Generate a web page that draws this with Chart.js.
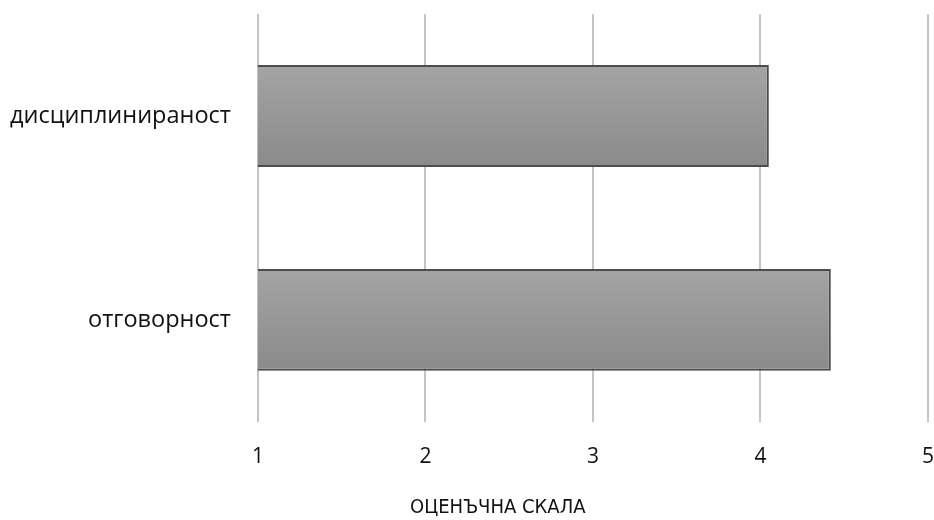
<!DOCTYPE html>
<html>
<head>
<meta charset="utf-8">
<script src="https://cdn.jsdelivr.net/npm/chart.js@4/dist/chart.umd.min.js"></script>
<style>
  html, body { margin: 0; padding: 0; background: #fff; }
  #wrap { width: 934px; height: 520px; }
</style>
</head>
<body>
<div id="wrap"><canvas id="myChart"></canvas></div>
<script>
const categories = ['дисциплинираност', 'отговорност'];
const scores = [4.05, 4.42];
const tickValues = [1, 2, 3, 4, 5];
const axisTitle = 'ОЦЕНЪЧНА СКАЛА';

const FONT = '"Open Sans", sans-serif';
const TITLE_FONT = '20px "DejaVu Sans Condensed", Roboto, sans-serif';

// vertical grey gradient for each bar, built from the bar's own position
function barFill(context) {
    const chart = context.chart;
    const meta = chart.getDatasetMeta(context.datasetIndex);
    const el = meta.data[context.dataIndex];
    if (!el || !el.height) return '#999999';
    const top = el.y - el.height / 2;
    const g = chart.ctx.createLinearGradient(0, top, 0, top + el.height);
    g.addColorStop(0, '#a4a4a4');
    g.addColorStop(1, '#8a8a8a');
    return g;
}

// the axis title in the original sits left of the plot centre, so draw it ourselves
const axisTitlePlugin = {
    id: 'axisTitle',
    afterDraw(chart) {
        const { ctx, chartArea } = chart;
        ctx.save();
        ctx.font = TITLE_FONT;
        ctx.fillStyle = '#111';
        ctx.textAlign = 'center';
        ctx.textBaseline = 'middle';
        const x = chartArea.left + (chartArea.right - chartArea.left) * 0.358;
        ctx.fillText(axisTitle, x, chart.height - 12);
        ctx.restore();
    }
};

const data = {
    labels: categories,
    datasets: [
        {
            label: 'Оценка',
            data: scores,
            backgroundColor: barFill,
            borderColor: '#4d4d4d',
            borderWidth: 2,
            borderSkipped: false,
            barPercentage: 0.5,
            categoryPercentage: 1.0
        }
    ]
};

const config = {
    type: 'bar',
    data: data,
    options: {
        indexAxis: 'y',
        responsive: true,
        maintainAspectRatio: false,
        animation: false,
        layout: {
            padding: { top: 0, right: 0, left: 10, bottom: 0 }
        },
        scales: {
            x: {
                min: 1,
                max: 5,
                afterBuildTicks: (axis) => {
                    axis.ticks = tickValues.map(v => ({ value: v }));
                },
                afterFit: (axis) => {
                    axis.height += 50; // room for the title
                },
                grid: {
                    color: '#c4c4c4',
                    lineWidth: 2,
                    drawTicks: true,
                    tickLength: 23,
                    tickColor: 'rgba(0,0,0,0)'
                },
                border: { display: false },
                ticks: {
                    color: '#111',
                    padding: 0,
                    font: { family: FONT, size: 21 }
                }
            },
            y: {
                grid: { display: false, drawTicks: true, tickLength: 27 },
                border: { display: false },
                ticks: {
                    color: '#111',
                    padding: 0,
                    font: { family: FONT, size: 23.5 }
                }
            }
        },
        plugins: {
            legend: { display: false },
            tooltip: { enabled: false }
        }
    },
    plugins: [axisTitlePlugin]
};

const myChart = new Chart(document.getElementById('myChart'), config);
// redraw once so the gradient picks up final bar positions
myChart.update();
</script>
</body>
</html>
